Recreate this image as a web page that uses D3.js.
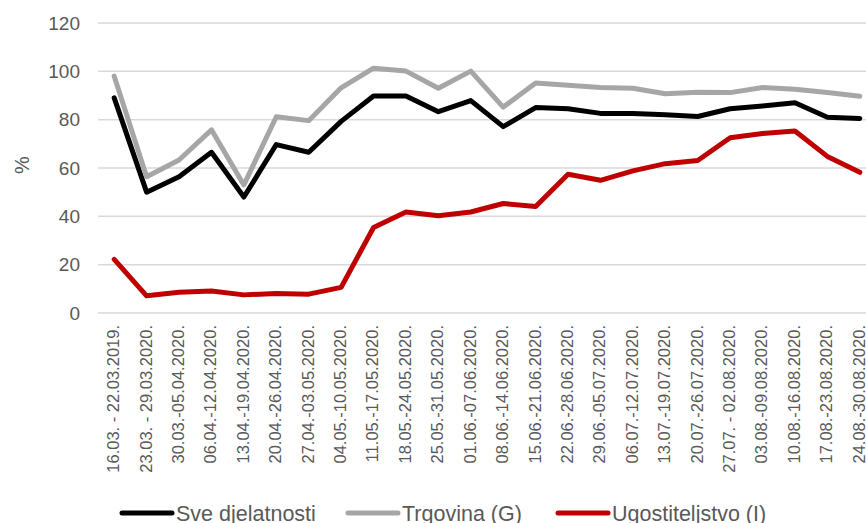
<!DOCTYPE html>
<html>
<head>
<meta charset="utf-8">
<script src="https://cdn.jsdelivr.net/npm/d3@7"></script>
<style>
  body { margin: 0; background: #fff; }
  svg { display: block; font-family: "Liberation Sans", Arial, sans-serif; }
  .grid line { stroke: #d9d9d9; stroke-width: 1.5; }
  .tick text { fill: #595959; }
</style>
</head>
<body>
<svg width="866" height="523"></svg>
<script>
var weeks = [
  "16.03. - 22.03.2019.", "23.03. - 29.03.2020.", "30.03.-05.04.2020.", "06.04.-12.04.2020.",
  "13.04.-19.04.2020.", "20.04.-26.04.2020.", "27.04.-03.05.2020.", "04.05.-10.05.2020.",
  "11.05.-17.05.2020.", "18.05.-24.05.2020.", "25.05.-31.05.2020.", "01.06.-07.06.2020.",
  "08.06.-14.06.2020.", "15.06.-21.06.2020.", "22.06.-28.06.2020.", "29.06.-05.07.2020.",
  "06.07.-12.07.2020.", "13.07.-19.07.2020.", "20.07.-26.07.2020.", "27.07. - 02.08.2020.",
  "03.08.-09.08.2020.", "10.08.-16.08.2020.", "17.08.-23.08.2020.", "24.08.-30.08.2020."
];

var sveDjelatnosti = [89, 50, 56.4, 66.5, 48, 69.7, 66.5, 79.3, 89.8, 89.8, 83.3, 87.9,
  77.1, 85, 84.5, 82.6, 82.6, 82, 81.3, 84.5, 85.7, 87, 81, 80.5];

var trgovina = [98, 56.4, 63.3, 75.8, 53, 81.2, 79.6, 93.2, 101.3, 100.1, 93, 100.1,
  85.2, 95.2, 94.2, 93.3, 93, 90.7, 91.3, 91.2, 93.3, 92.6, 91.2, 89.7];

var ugostiteljstvo = [22.2, 7.1, 8.6, 9.1, 7.5, 8.1, 7.8, 10.6, 35.4, 41.8, 40.2, 41.8,
  45.3, 44.1, 57.4, 54.9, 58.8, 61.8, 63.1, 72.5, 74.3, 75.3, 64.8, 58.2];

var yTicks = [0, 20, 40, 60, 80, 100, 120];

var series = [
  { name: "Sve djelatnosti", values: sveDjelatnosti, color: "#000000" },
  { name: "Trgovina (G)", values: trgovina, color: "#a6a6a6" },
  { name: "Ugostiteljstvo (I)", values: ugostiteljstvo, color: "#c00000" }
];

var svg = d3.select("svg");

var x = d3.scaleBand()
  .domain(weeks)
  .range([98, 876]);

var y = d3.scaleLinear()
  .domain([0, 120])
  .range([313, 23]);

// gridlines
svg.append("g")
  .attr("class", "grid")
  .selectAll("line")
  .data(yTicks)
  .enter().append("line")
    .attr("x1", 98)
    .attr("x2", 866)
    .attr("y1", d => y(d))
    .attr("y2", d => y(d));

// y axis labels
var yAxis = svg.append("g")
  .attr("transform", "translate(80,0)")
  .call(d3.axisLeft(y).tickValues(yTicks).tickSize(0).tickPadding(0));
yAxis.select(".domain").remove();
yAxis.selectAll("text")
  .style("font-size", "19px")
  .style("font-family", "'Liberation Sans', Arial, sans-serif");

svg.append("text")
  .attr("transform", "translate(22,165) rotate(-90)")
  .attr("text-anchor", "middle")
  .attr("dy", "0.35em")
  .style("font-size", "20px")
  .style("fill", "#595959")
  .text("%");

// x labels
svg.append("g")
  .selectAll("text")
  .data(weeks)
  .enter().append("text")
    .attr("transform", d => "translate(" + (x(d) + x.bandwidth() / 2) + ",325) rotate(-90)")
    .attr("text-anchor", "end")
    .attr("dy", "0.3em")
    .style("font-size", "16.5px")
    .style("fill", "#595959")
    .text(d => d);

// lines
var line = d3.line()
  .x((d, i) => x(weeks[i]) + x.bandwidth() / 2)
  .y(d => y(d));

svg.selectAll(".series")
  .data(series)
  .enter().append("path")
    .attr("class", "series")
    .attr("d", d => line(d.values))
    .attr("fill", "none")
    .attr("stroke", d => d.color)
    .attr("stroke-width", 5)
    .attr("stroke-linejoin", "round")
    .attr("stroke-linecap", "round");

// legend
var legendX = [122, 348, 558];
var legend = svg.selectAll(".legend")
  .data(series)
  .enter().append("g")
    .attr("class", "legend")
    .attr("transform", (d, i) => "translate(" + legendX[i] + ",513)");

legend.append("line")
  .attr("x1", 0)
  .attr("x2", 50)
  .attr("stroke", d => d.color)
  .attr("stroke-width", 5)
  .attr("stroke-linecap", "round");

legend.append("text")
  .attr("x", 54)
  .attr("dy", "0.36em")
  .style("font-size", "21.5px")
  .style("fill", "#595959")
  .text(d => d.name);
</script>
</body>
</html>
